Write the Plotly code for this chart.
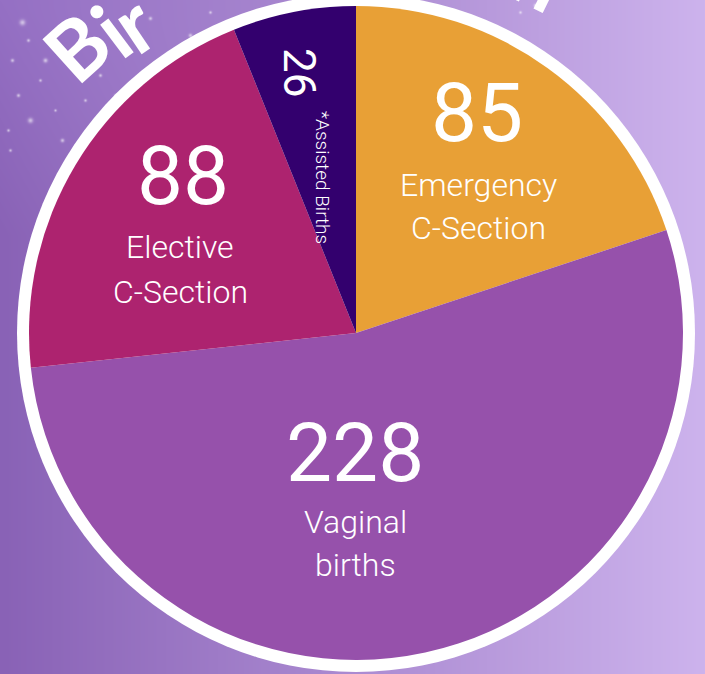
import base64, struct, zlib
import numpy as np
import plotly.graph_objects as go

# ---------------- data ----------------
labels = ["Emergency C-Section", "Vaginal births", "Elective C-Section", "*Assisted Births"]
values = [85, 228, 88, 26]
colors = ["#E8A036", "#9651AB", "#AD236F", "#33006E"]

W, H = 705, 674
CX, CY, R = 356, 333, 327     # pie centre / radius in pixels
RING = 12


def px(x):
    return x / W


def py(y):
    return 1 - y / H


# ---------------- background image (gradient + sparkles) ----------------
def make_bg():
    xs = np.linspace(0, 1, W)[None, :]
    ys = np.linspace(0, 1, H)[:, None]
    left = np.array([137, 98, 182], float)
    right = np.array([205, 179, 237], float)
    img = left[None, None, :] * (1 - xs[..., None]) + right[None, None, :] * xs[..., None]
    img = np.broadcast_to(img, (H, W, 3)).copy()
    tl = np.clip(1 - np.sqrt(((xs - 0.0) / 0.5) ** 2 + ((ys - 0.0) / 0.35) ** 2), 0, 1)
    img += tl[..., None] * np.array([12, 14, 14])[None, None, :]
    sparkles = [(22, 22, 2.0), (45, 60, 1.5), (18, 95, 1.2), (30, 120, 1.8), (62, 140, 1.3),
                (10, 150, 1.0), (95, 125, 1.2), (40, 80, 1.0), (135, 120, 1.5), (12, 60, 1.2),
                (70, 25, 1.0), (150, 18, 1.2), (210, 12, 1.0), (190, 35, 1.3), (125, 45, 1.0),
                (85, 100, 1.0), (55, 110, 0.9), (100, 75, 1.1), (28, 40, 1.1), (160, 70, 1.2),
                (115, 95, 1.0), (535, 5, 1.3), (520, 12, 1.0), (8, 130, 1.0), (75, 160, 1.0)]
    yy, xx = np.mgrid[0:H, 0:W]
    for sx, sy, s in sparkles:
        g = np.exp(-(((xx - sx) ** 2 + (yy - sy) ** 2) / (2 * s * s)))
        img = img * (1 - 0.55 * g[..., None]) + 255 * 0.55 * g[..., None]
    img = np.clip(img, 0, 255).astype(np.uint8)
    raw = b"".join(b"\x00" + img[r].tobytes() for r in range(H))

    def chunk(t, d):
        c = struct.pack(">I", len(d)) + t + d
        return c + struct.pack(">I", zlib.crc32(t + d) & 0xFFFFFFFF)

    png = b"\x89PNG\r\n\x1a\n" + chunk(b"IHDR", struct.pack(">IIBBBBB", W, H, 8, 2, 0, 0, 0)) \
        + chunk(b"IDAT", zlib.compress(raw, 9)) + chunk(b"IEND", b"")
    return "data:image/png;base64," + base64.b64encode(png).decode()


fig = go.Figure()
fig.add_trace(go.Pie(
    labels=labels, values=values, sort=False, direction="clockwise", rotation=0,
    marker=dict(colors=colors, line=dict(width=0)),
    textinfo="none", hoverinfo="label+value", showlegend=False,
    domain=dict(x=[px(CX - R), px(CX + R)], y=[py(CY + R), py(CY - R)]),
))

shapes = [dict(type="circle", xref="paper", yref="paper", layer="below",
               x0=px(CX - R - RING), x1=px(CX + R + RING),
               y0=py(CY + R + RING), y1=py(CY - R - RING),
               fillcolor="white", line=dict(width=0))]

NUM_FONT = "Roboto"
LAB_FONT = "Roboto"
ann = []


def txt(t, x, y, size, weight=400, fam=NUM_FONT, angle=0, color="white"):
    ann.append(dict(text=t, x=px(x), y=py(y), xref="paper", yref="paper",
                    showarrow=False, textangle=angle, xanchor="center", yanchor="middle",
                    font=dict(family=fam, size=size, color=color, weight=weight)))


# numbers
txt(str(values[0]), 477, 113, 82)
txt(str(values[2]), 183, 176, 82)
txt(str(values[1]), 355, 453, 82)
txt(str(values[3]), 299, 72, 44, angle=90)
# labels
txt("Emergency", 478, 185, 32, 300, LAB_FONT)
txt("C-Section", 478, 228, 32, 300, LAB_FONT)
txt("Elective", 180, 247, 32, 300, LAB_FONT)
txt("C-Section", 180, 292, 32, 300, LAB_FONT)
txt("Vaginal", 356, 522, 32, 300, LAB_FONT)
txt("births", 356, 565, 32, 300, LAB_FONT)
txt(labels[3], 323, 177, 19, 300, LAB_FONT, angle=90)
# partially visible curved title
TF = "Lato"
txt("B", 76, 46, 82, 700, TF, angle=-42)
txt("i", 110, 30, 82, 700, TF, angle=-37)
txt("r", 132, 22, 82, 700, TF, angle=-34)
txt("n", 540, -24, 82, 700, TF, angle=26)

fig.update_layout(
    width=W, height=H, margin=dict(l=0, r=0, t=0, b=0),
    paper_bgcolor="#A888D0", plot_bgcolor="rgba(0,0,0,0)",
    images=[dict(source=make_bg(), xref="paper", yref="paper", x=0, y=1,
                 sizex=1, sizey=1, sizing="stretch", xanchor="left", yanchor="top",
                 layer="below")],
    shapes=shapes, annotations=ann,
)
fig.write_html("out.html")
